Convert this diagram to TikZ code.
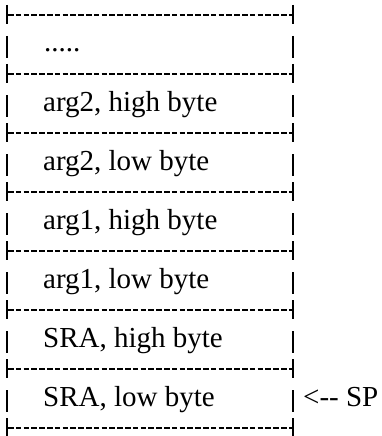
\documentclass[tikz,border=0pt]{standalone}
\usepackage{fontspec}
\setmainfont{Liberation Serif}
\begin{document}
\begin{tikzpicture}[x=1pt,y=-1pt,
  divider/.style={line width=2.4pt, dash pattern=on 5.5pt off 2.3pt},
  bar/.style={line width=2.8pt},
  cell/.style={anchor=base west, inner sep=0pt, font=\fontsize{29}{29}\selectfont}]
\useasboundingbox (0,0) rectangle (382,436);
\foreach \i in {0,...,7} {
  \pgfmathsetmacro\yy{15+59*\i}
  \draw[divider] (8,\yy) -- (292,\yy);
  \draw[bar] (7,\yy-10) -- (7,\yy+9);
  \draw[bar] (293,\yy-10) -- (293,\yy+9);
}
\foreach \i in {0,...,6} {
  \pgfmathsetmacro\yy{15+59*\i}
  \draw[bar] (7,\yy+21) -- (7,\yy+43);
  \draw[bar] (293,\yy+21) -- (293,\yy+43);
}
\node[cell] (r1) at (44,52) {.....};
\node[cell] (r2) at (43,111) {arg2, high byte};
\node[cell] (r3) at (43,170) {arg2, low byte};
\node[cell] (r4) at (43,229) {arg1, high byte};
\node[cell] (r5) at (43,288) {arg1, low byte};
\node[cell] (r6) at (43,347) {SRA, high byte};
\node[cell] (r7) at (43,406) {SRA, low byte};
\node[cell] (sp) at (303,406) {<{-}{-} SP};
\end{tikzpicture}
\end{document}
